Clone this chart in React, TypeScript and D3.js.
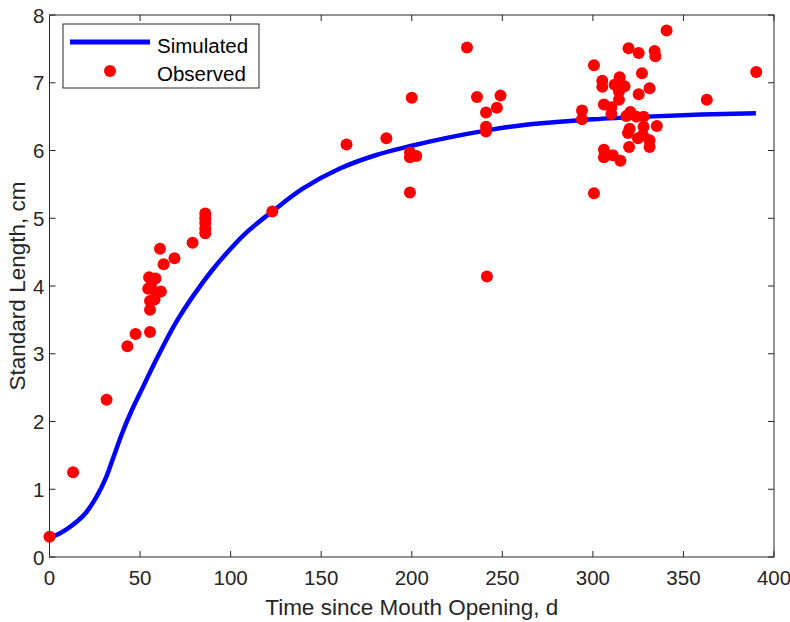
import React from "react";
import * as d3 from "d3";

const simT = [0, 5, 10, 15, 20, 26, 31, 35, 40, 45, 50, 60, 70, 80, 90, 100, 110, 123, 140, 160, 180, 200, 220, 240, 260, 280, 300, 330, 360, 390];
const simL = [0.28, 0.34, 0.42, 0.52, 0.65, 0.89, 1.16, 1.45, 1.82, 2.14, 2.42, 2.97, 3.47, 3.88, 4.24, 4.55, 4.82, 5.10, 5.44, 5.73, 5.93, 6.07, 6.19, 6.29, 6.37, 6.42, 6.46, 6.50, 6.53, 6.55];

const obsT = [0, 13, 31.5, 43, 47.5, 55.5, 55.5, 55.5, 58, 59, 61.5, 54.5, 55, 58.5, 56, 63, 61, 69, 79, 86, 86, 86, 86, 86, 123, 164, 186,
  230.5, 200, 236, 249, 247, 241, 241, 241, 199, 199, 202.5, 199, 241.5,
  340.7, 319.7, 325.3, 334.1, 334.5, 300.6, 327.1, 390.2, 305.2, 305.2, 314.8, 312, 317.5, 314.4, 314.4, 331.3, 325.3, 362.9, 306.1, 310.2, 310.2, 294, 294, 320.7, 318.5, 324, 328, 335.3, 328, 320.3, 319.4, 327.6, 324.9, 331.3, 331.3, 320, 306.1, 306.1, 311, 315.2, 300.6];
const obsL = [0.3, 1.25, 2.32, 3.11, 3.29, 3.32, 3.65, 3.78, 3.80, 3.89, 3.92, 3.96, 4.13, 4.11, 4.0, 4.32, 4.55, 4.41, 4.64, 4.78, 4.85, 4.93, 5.00, 5.07, 5.10, 6.09, 6.18,
  7.52, 6.78, 6.79, 6.81, 6.63, 6.56, 6.35, 6.28, 5.97, 5.90, 5.92, 5.38, 4.14,
  7.77, 7.51, 7.44, 7.47, 7.39, 7.26, 7.14, 7.16, 7.03, 6.94, 7.08, 6.97, 6.95, 6.87, 6.75, 6.92, 6.83, 6.75, 6.68, 6.64, 6.54, 6.59, 6.46, 6.57, 6.51, 6.50, 6.50, 6.36, 6.35, 6.32, 6.26, 6.23, 6.18, 6.15, 6.05, 6.05, 6.01, 5.90, 5.93, 5.85, 5.37];

const xTicks = [0, 50, 100, 150, 200, 250, 300, 350, 400];
const yTicks = [0, 1, 2, 3, 4, 5, 6, 7, 8];

const W = 790, H = 622;
const L = 49.5, R = 774, T = 15, B = 557;
const axisColor = "#262626";
const font = "'Liberation Sans', Arial, sans-serif";
const tickFs = 20.5;
const labelFs = 22.5;

export default function App() {
  const x = d3.scaleLinear().domain([0, 400]).range([L, R]);
  const y = d3.scaleLinear().domain([0, 8]).range([B, T]);
  const line = d3.line<number>().x((_, i) => x(simT[i])).y((d) => y(d)).curve(d3.curveCatmullRom.alpha(0.5));
  const tk = 6;
  return (
    <svg width={W} height={H} style={{ position: "absolute", left: 0, top: 0, background: "#fff" }}>
      <rect x={0} y={0} width={W} height={H} fill="#fff" />
      <path d={line(simL) || ""} fill="none" stroke="#0000ff" strokeWidth={4.5} />
      {obsT.map((t, i) => (
        <circle key={i} cx={x(t)} cy={y(obsL[i])} r={6} fill="#ff0000" />
      ))}
      <rect x={L} y={T} width={R - L} height={B - T} fill="none" stroke={axisColor} strokeWidth={1} />
      {xTicks.map((v) => (
        <g key={"x" + v}>
          <line x1={x(v)} x2={x(v)} y1={B} y2={B - tk} stroke={axisColor} />
          <line x1={x(v)} x2={x(v)} y1={T} y2={T + tk} stroke={axisColor} />
          <text x={x(v)} y={585} textAnchor="middle" fontFamily={font} fontSize={tickFs} fill={axisColor}>{v}</text>
        </g>
      ))}
      {yTicks.map((v) => (
        <g key={"y" + v}>
          <line x1={L} x2={L + tk} y1={y(v)} y2={y(v)} stroke={axisColor} />
          <line x1={R} x2={R - tk} y1={y(v)} y2={y(v)} stroke={axisColor} />
          <text x={L - 5} y={y(v) + 7.5} textAnchor="end" fontFamily={font} fontSize={tickFs} fill={axisColor}>{v}</text>
        </g>
      ))}
      <text x={(L + R) / 2} y={615} textAnchor="middle" fontFamily={font} fontSize={labelFs} fill={axisColor}>Time since Mouth Opening, d</text>
      <text transform={`translate(25, ${(T + B) / 2}) rotate(-90)`} textAnchor="middle" fontFamily={font} fontSize={labelFs} fill={axisColor}>Standard Length, cm</text>
      <g>
        <rect x={63} y={24} width={196} height={64} fill="#fff" stroke={axisColor} strokeWidth={1} />
        <line x1={70} x2={150} y1={42} y2={42} stroke="#0000ff" strokeWidth={5} />
        <text x={157} y={52.5} fontFamily={font} fontSize={tickFs} fill="#000">Simulated</text>
        <circle cx={110} cy={71} r={6} fill="#ff0000" />
        <text x={157} y={80.5} fontFamily={font} fontSize={tickFs} fill="#000">Observed</text>
      </g>
    </svg>
  );
}
